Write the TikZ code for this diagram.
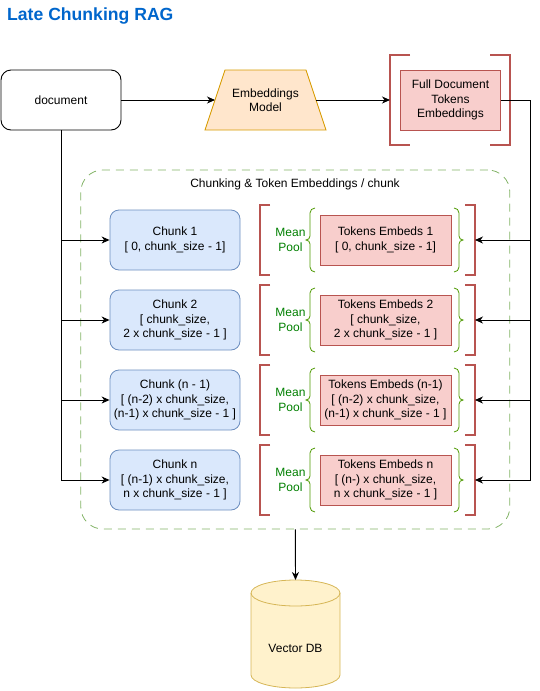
\documentclass[tikz,border=0pt]{standalone}
\usepackage{fontspec}
\setmainfont{Liberation Sans}
\usetikzlibrary{arrows.meta,shapes.geometric}
\definecolor{titleblue}{HTML}{0066CC}
\definecolor{chunkfill}{HTML}{DAE8FC}
\definecolor{chunkline}{HTML}{6C8EBF}
\definecolor{redfill}{HTML}{F8CECC}
\definecolor{redline}{HTML}{B85450}
\definecolor{orfill}{HTML}{FFE6CC}
\definecolor{orline}{HTML}{D79B00}
\definecolor{yelfill}{HTML}{FFF2CC}
\definecolor{yelline}{HTML}{D6B656}
\definecolor{grpgreen}{HTML}{82B366}
\definecolor{bracegreen}{HTML}{4D9900}
\definecolor{pooltext}{HTML}{007F00}
\tikzset{
  arr/.style={draw=black, line width=0.9pt, -{Stealth[length=8pt,width=7pt,inset=2.5pt]}},
  chunkbox/.style={draw=chunkline, fill=chunkfill, rounded corners=9pt, minimum width=130pt, minimum height=60pt, inner sep=0pt, align=center, line width=0.8pt},
  tokbox/.style={draw=redline, fill=redfill, minimum width=131pt, minimum height=50pt, inner sep=0pt, align=center, line width=0.8pt},
  grpbox/.style={minimum width=215pt, minimum height=70pt, inner sep=0pt, outer sep=0pt},
  bracket/.style={draw=redline, line width=2.5pt},
  curly/.style={draw=bracegreen, line width=0.8pt},
  pool/.style={text=pooltext, align=center, inner sep=0pt},
}
\begin{document}
\begin{tikzpicture}[x=1pt,y=-1pt,font=\fontsize{12}{14.4}\selectfont]
\useasboundingbox (0,0) rectangle (539,691);

% title
\node[text=titleblue, font=\bfseries\fontsize{17.6}{20}\selectfont, anchor=west, inner sep=0pt] (title) at (7,16) {Late Chunking RAG};

% top row
\node[draw=black, rounded corners=10pt, minimum width=120pt, minimum height=60pt, inner sep=0pt, line width=0.9pt] (doc) at (61,100) {document};
\filldraw[draw=orline, fill=orfill, line width=0.8pt] (205,130) -- (225,70) -- (306,70) -- (326,130) -- cycle;
\node[minimum width=101pt, minimum height=60pt, inner sep=0pt, outer sep=0pt, align=center] (emb) at (265.5,100) {Embeddings\\Model};
\node[draw=redline, fill=redfill, minimum width=100pt, minimum height=60pt, inner sep=0pt, align=center, line width=0.8pt] (full) at (450.5,100) {Full Document\\Tokens\\Embeddings};
\node[minimum width=120pt, minimum height=90pt, inner sep=0pt, outer sep=0pt] (fullb) at (450,100) {};
\draw[bracket] ([xshift=20pt]fullb.north west) -- (fullb.north west) -- (fullb.south west) -- ([xshift=20pt]fullb.south west);
\draw[bracket] ([xshift=-20pt]fullb.north east) -- (fullb.north east) -- (fullb.south east) -- ([xshift=-20pt]fullb.south east);

\draw[arr] (doc.east) -- (emb.west);
\draw[arr] (emb.east) -- (fullb.west);

% group container
\node[draw=grpgreen, dash pattern=on 8pt off 6pt, rounded corners=22pt, minimum width=429pt, minimum height=359pt, inner sep=0pt, line width=0.8pt] (grp) at (295.3,349.5) {};
\node (grptitle) at (295,184) {Chunking \& Token Embeddings / chunk};

% rows
\node[chunkbox] (c1) at (175,240) {Chunk 1\\{[} 0, chunk\_size - 1]};
\node[chunkbox] (c2) at (175,320) {Chunk 2\\{[} chunk\_size,\\2 x chunk\_size - 1 ]};
\node[chunkbox] (c3) at (175,400) {Chunk (n - 1)\\{[} (n-2) x chunk\_size,\\(n-1) x chunk\_size - 1 ]};
\node[chunkbox] (c4) at (175,480) {Chunk n\\{[} (n-1) x chunk\_size,\\n x chunk\_size - 1 ]};

\node[tokbox] (t1) at (385.5,240) {Tokens Embeds 1\\{[} 0, chunk\_size - 1]};
\node[tokbox] (t2) at (385.5,320) {Tokens Embeds 2\\{[} chunk\_size,\\2 x chunk\_size - 1 ]};
\node[tokbox] (t3) at (385.5,400) {Tokens Embeds (n-1)\\{[} (n-2) x chunk\_size,\\(n-1) x chunk\_size - 1 ]};
\node[tokbox] (t4) at (385.5,480) {Tokens Embeds n\\{[} (n-) x chunk\_size,\\n x chunk\_size - 1 ]};

\foreach \i/\yy in {1/240,2/320,3/400,4/480}{
  \node[pool] (p\i) at (290.5,\yy) {Mean\\Pool};
  \node[grpbox] (g\i) at (367.5,\yy) {};
  \draw[bracket] ([xshift=10pt]g\i.north west) -- (g\i.north west) -- (g\i.south west) -- ([xshift=10pt]g\i.south west);
  \draw[bracket] ([xshift=-10pt]g\i.north east) -- (g\i.north east) -- (g\i.south east) -- ([xshift=-10pt]g\i.south east);
  \draw[curly] (315,\yy-32) to[out=180,in=90] (310,\yy-27) -- (310,\yy-4) to[out=-90,in=0] (306,\yy) to[out=0,in=90] (310,\yy+4) -- (310,\yy+27) to[out=-90,in=180] (315,\yy+32);
  \draw[curly] (454,\yy-32) to[out=0,in=90] (459,\yy-27) -- (459,\yy-4) to[out=-90,in=180] (463,\yy) to[out=180,in=90] (459,\yy+4) -- (459,\yy+27) to[out=-90,in=0] (454,\yy+32);
}

% left spine
\draw[arr] (doc.south) |- (c4.west);
\draw[arr] (doc.south |- c1.west) -- (c1.west);
\draw[arr] (doc.south |- c2.west) -- (c2.west);
\draw[arr] (doc.south |- c3.west) -- (c3.west);

% right spine
\coordinate (R) at (530,100);
\draw[arr] (full.east) -- (R) |- (g4.east);
\draw[arr] (R |- g1.east) -- (g1.east);
\draw[arr] (R |- g2.east) -- (g2.east);
\draw[arr] (R |- g3.east) -- (g3.east);

% vector db
\node[minimum width=89pt, minimum height=108pt, inner sep=0pt, outer sep=0pt] (vdb) at (295.5,634) {};
\fill[yelfill] (251,593) -- (251,675) arc[start angle=180, end angle=0, x radius=44.5, y radius=13] -- (340,593) arc[start angle=0, end angle=-180, x radius=44.5, y radius=13] -- cycle;
\draw[yelline, line width=0.8pt] (251,593) -- (251,675) arc[start angle=180, end angle=0, x radius=44.5, y radius=13] -- (340,593) arc[start angle=0, end angle=-180, x radius=44.5, y radius=13] -- cycle;
\draw[yelline, line width=0.8pt] (251,593) arc[start angle=180, end angle=0, x radius=44.5, y radius=13];
\node (vdbt) at (295.5,648) {Vector DB};

\draw[arr] (grp.south) -- (vdb.north);
\end{tikzpicture}
\end{document}
